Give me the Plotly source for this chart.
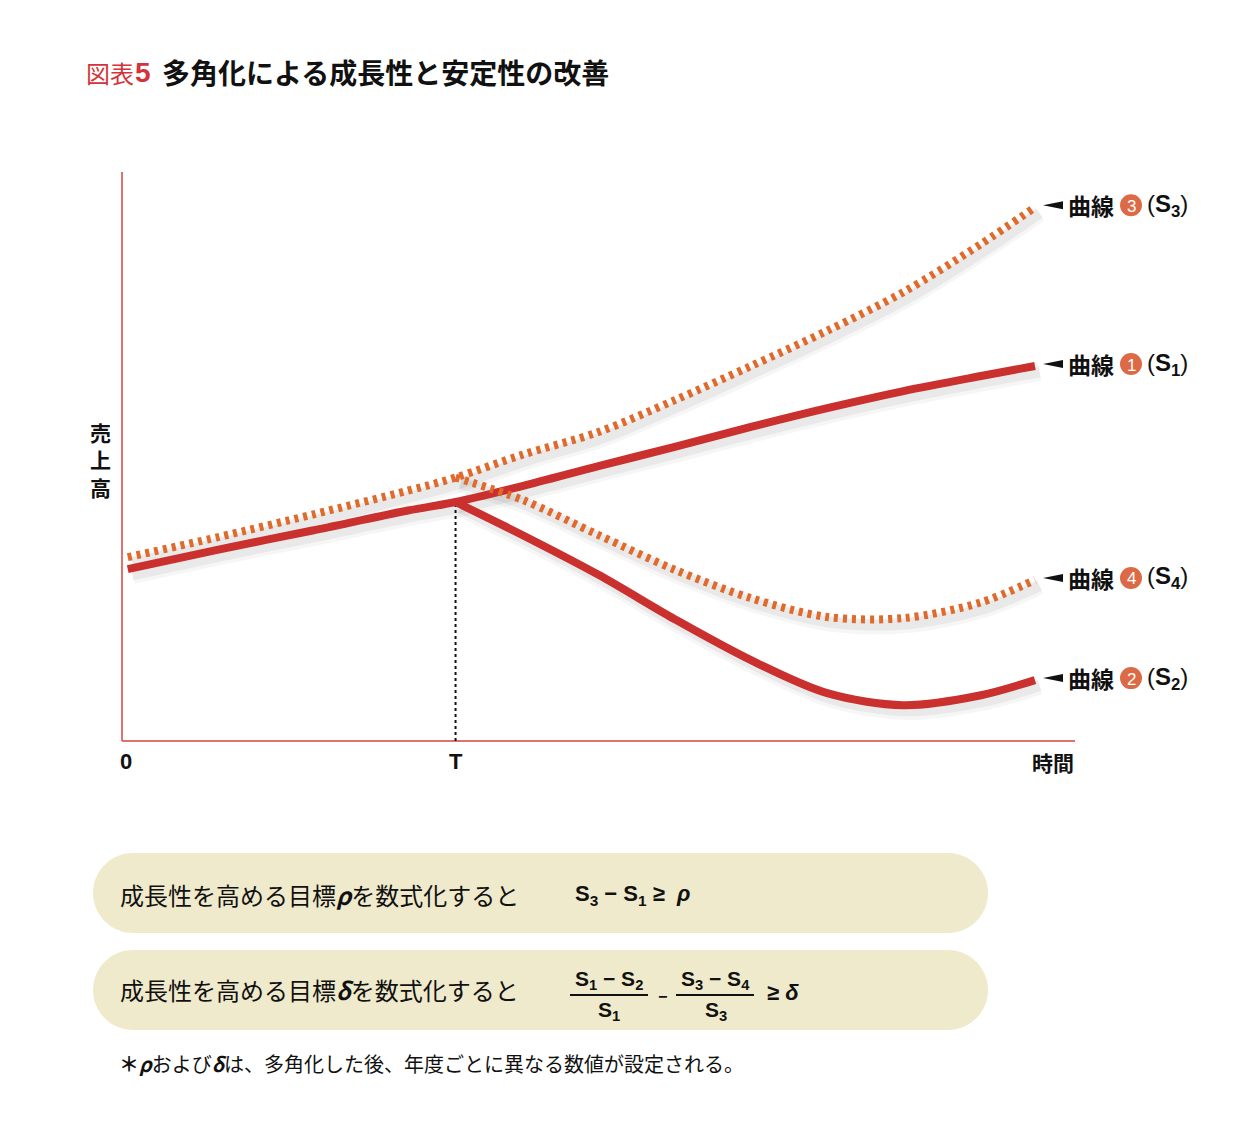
import plotly.graph_objects as go

# page has an 8px body margin, so the figure is offset by 8px
OFF = 8
W, H = 1254 - 2 * OFF, 1124 - 2 * OFF
FONT = "Noto Sans CJK JP"
LAT = "Liberation Sans"

# ---- data (time 0..100, sales 0..100 arbitrary units) ----
time_s1 = [0.6, 10, 20, 30, 35, 42, 50, 58, 66, 74, 82, 90, 95.8]
sales_s1 = [30.2, 33.6, 37.0, 40.5, 42.0, 44.8, 48.3, 51.7, 55.2, 58.5, 61.5, 64.1, 65.9]
time_s3 = [0.6, 10, 20, 30, 35, 42, 50, 58, 66, 74, 82, 90, 95.8]
sales_s3 = [32.3, 35.8, 39.8, 44.0, 46.3, 50.3, 54.3, 59.9, 65.9, 72.1, 78.9, 87.2, 93.8]
time_s2 = [35, 42, 50, 58, 66, 74, 82, 90, 95.8]
sales_s2 = [42.0, 36.2, 29.2, 21.4, 14.2, 8.4, 6.3, 8.0, 10.7]
time_s4 = [35, 42, 50, 58, 66, 74, 82, 90, 95.8]
sales_s4 = [46.3, 42.4, 36.2, 30.1, 25.1, 21.8, 21.6, 24.3, 28.3]
t_mark = 35
tick_labels = ["0", "T", "時間"]
curve_numbers = ["1", "2", "3", "4"]
curve_subs = ["1", "2", "3", "4"]

RED = "#c9302e"
ORANGE = "#e0692c"
AXIS = "#d5443f"

# plot area in reference pixels
PX0, PX1 = 122, 1075
PY0, PY1 = 741, 172  # bottom, top


def P(px, py):
    return (px - OFF) / W, 1 - (py - OFF) / H


def val_to_py(v):
    return PY0 - v * (PY0 - PY1) / 100.0


fig = go.Figure()

# soft shadows
for xs, ys in [(time_s1, sales_s1), (time_s2, sales_s2), (time_s3, sales_s3), (time_s4, sales_s4)]:
    for w, a, dy in [(16, 0.035, 1.2), (11, 0.05, 1.0)]:
        fig.add_trace(go.Scatter(
            x=[x + 0.5 for x in xs], y=[y - dy for y in ys], mode="lines",
            line=dict(color=f"rgba(0,0,0,{a})", width=w, shape="spline", smoothing=0.9),
            hoverinfo="skip", showlegend=False))

# dotted vertical at T
fig.add_trace(go.Scatter(
    x=[t_mark, t_mark], y=[0, sales_s1[time_s1.index(t_mark)]], mode="lines",
    line=dict(color="#111111", width=2, dash="dot"), showlegend=False, hoverinfo="skip"))

# red solid lines
for xs, ys in [(time_s1, sales_s1), (time_s2, sales_s2)]:
    fig.add_trace(go.Scatter(
        x=xs, y=ys, mode="lines",
        line=dict(color=RED, width=8, shape="spline", smoothing=0.9),
        showlegend=False, hoverinfo="skip"))

# orange dashed lines
for xs, ys in [(time_s3, sales_s3), (time_s4, sales_s4)]:
    fig.add_trace(go.Scatter(
        x=xs, y=ys, mode="lines",
        line=dict(color=ORANGE, width=8, shape="spline", smoothing=0.9, dash="4px,5px"),
        showlegend=False, hoverinfo="skip"))

shapes = []
annotations = []

# red axis lines
for (xa, ya), (xb, yb) in [((PX0, PY1), (PX0, PY0)), ((PX0, PY0), (PX1, PY0))]:
    a = P(xa, ya)
    b = P(xb, yb)
    shapes.append(dict(type="line", xref="paper", yref="paper", x0=a[0], y0=a[1], x1=b[0], y1=b[1],
                       line=dict(color=AXIS, width=1.5), layer="below"))


def text(px, py, s, size, color="#111111", xanchor="left", yanchor="middle", family=FONT):
    x, y = P(px, py)
    annotations.append(dict(
        x=x, y=y, xref="paper", yref="paper", text=s, showarrow=False,
        xanchor=xanchor, yanchor=yanchor,
        font=dict(family=family, size=size, color=color)))


# title
text(84, 72, "図表", 24, color="#d2343a")
text(133, 72, "<b>5</b>", 28, color="#d2343a", family=LAT)
text(160, 72, "<b>多角化による成長性と安定性の改善</b>", 28)

# axis labels
text(126, 761, "<b>" + tick_labels[0] + "</b>", 22, xanchor="center", family=LAT)
text(PX0 + t_mark * (PX1 - PX0) / 100, 761, "<b>" + tick_labels[1] + "</b>", 22, xanchor="center",
     family=LAT)
text(1053, 762, "<b>" + tick_labels[2] + "</b>", 21, xanchor="center")
text(100, 459, "<b>売<br>上<br>高</b>", 21, xanchor="center")

# curve labels at the right
for ys, num, sub in [(sales_s1, curve_numbers[0], curve_subs[0]),
                     (sales_s2, curve_numbers[1], curve_subs[1]),
                     (sales_s3, curve_numbers[2], curve_subs[2]),
                     (sales_s4, curve_numbers[3], curve_subs[3])]:
    py = val_to_py(ys[-1]) - 2
    a = P(1043, py)
    b = P(1063, py - 4)
    c = P(1063, py + 4)
    shapes.append(dict(type="path", xref="paper", yref="paper",
                       path=f"M{a[0]},{a[1]} L{b[0]},{b[1]} L{c[0]},{c[1]} Z",
                       fillcolor="#111111", line=dict(width=0)))
    text(1066, py, "<b>曲線</b>", 23)
    c0 = P(1120, py - 11)
    c1 = P(1142, py + 11)
    shapes.append(dict(type="circle", xref="paper", yref="paper",
                       x0=c0[0], x1=c1[0], y0=c1[1], y1=c0[1],
                       fillcolor="#dc6a46", line=dict(width=0)))
    text(1131, py + 1, num, 17, color="white", xanchor="center", family=LAT)
    text(1145, py, "(<b>S<sub>" + sub + "</sub></b>)", 24, family=LAT)


# stadium boxes
def stadium(x0, x1, y0, y1):
    r = (y1 - y0) / 2
    k = 0.5523 * r

    def p(px, py):
        x, y = P(px, py)
        return f"{x:.5f},{y:.5f}"
    path = (f"M{p(x0 + r, y0)} L{p(x1 - r, y0)} "
            f"C{p(x1 - r + k, y0)} {p(x1, y0 + r - k)} {p(x1, y0 + r)} "
            f"C{p(x1, y0 + r + k)} {p(x1 - r + k, y1)} {p(x1 - r, y1)} "
            f"L{p(x0 + r, y1)} "
            f"C{p(x0 + r - k, y1)} {p(x0, y0 + r + k)} {p(x0, y0 + r)} "
            f"C{p(x0, y0 + r - k)} {p(x0 + r - k, y0)} {p(x0 + r, y0)} Z")
    return dict(type="path", xref="paper", yref="paper", path=path,
                fillcolor="#f0eacc", line=dict(width=0), layer="below")


shapes.append(stadium(93, 988, 853, 933))
shapes.append(stadium(93, 988, 950, 1030))

text(118, 894, "成長性を高める目標<b><i>ρ</i></b>を数式化すると", 24)
text(573, 895, "<b>S<sub>3</sub> − S<sub>1</sub> ≥  <i>ρ</i></b>", 22, family=LAT)

text(118, 989, "成長性を高める目標<b><i>δ</i></b>を数式化すると", 24)
text(609, 980, "<b>S<sub>1</sub> − S<sub>2</sub></b>", 21, xanchor="center", family=LAT)
text(609, 1011, "<b>S<sub>1</sub></b>", 21, xanchor="center", family=LAT)
text(662, 996, "<b>−</b>", 16, xanchor="center", family=LAT)
text(715, 980, "<b>S<sub>3</sub> − S<sub>4</sub></b>", 21, xanchor="center", family=LAT)
text(716, 1011, "<b>S<sub>3</sub></b>", 21, xanchor="center", family=LAT)
text(765, 992, "<b>≥ <i>δ</i></b>", 22, family=LAT)
for xa, xb in [(570, 648), (676, 754)]:
    a = P(xa, 995)
    b = P(xb, 995)
    shapes.append(dict(type="line", xref="paper", yref="paper", x0=a[0], x1=b[0], y0=a[1], y1=b[1],
                       line=dict(color="#111111", width=2)))

# footnote
text(117, 1063, "<b>＊</b><b><i>ρ</i></b>および<b><i>δ</i></b>は、多角化した後、年度ごとに異なる数値が設定される。", 20)

fig.update_layout(
    width=W, height=H,
    margin=dict(l=0, r=0, t=0, b=0),
    paper_bgcolor="white", plot_bgcolor="rgba(0,0,0,0)",
    xaxis=dict(domain=[(PX0 - OFF) / W, (PX1 - OFF) / W], range=[0, 100], showgrid=False,
               zeroline=False, showticklabels=False, ticks="", showline=False, fixedrange=True),
    yaxis=dict(domain=[1 - (PY0 - OFF) / H, 1 - (PY1 - OFF) / H], range=[0, 100], showgrid=False,
               zeroline=False, showticklabels=False, ticks="", showline=False, fixedrange=True),
    shapes=shapes, annotations=annotations, showlegend=False,
)

fig.write_html("out.html")
